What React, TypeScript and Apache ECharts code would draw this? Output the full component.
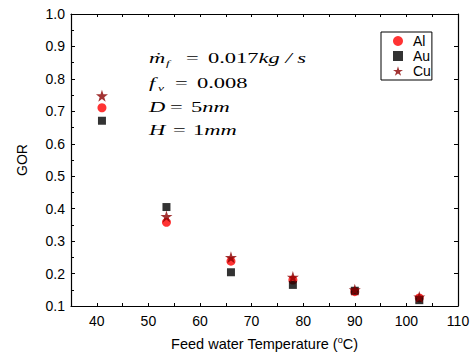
import React, { useEffect, useRef } from "react";
import * as echarts from "echarts";

const temps = [41, 53.5, 66, 78, 90, 102.5];
const alValues = [0.711, 0.358, 0.238, 0.18, 0.144, 0.125];
const auValues = [0.671, 0.405, 0.204, 0.165, 0.147, 0.118];
const cuValues = [0.748, 0.376, 0.25, 0.189, 0.15, 0.128];
const seriesNames = ["Al", "Au", "Cu"];

const STAR =
  "path://M0,-10 L2.245,-3.09 L9.51,-3.09 L3.633,1.18 L5.878,8.09 L0,3.82 L-5.878,8.09 L-3.633,1.18 L-9.51,-3.09 L-2.245,-3.09 Z";

const SANS = "Liberation Sans, Arial, sans-serif";
const SERIF = "Liberation Serif, Times New Roman, serif";
const STRETCH = 1.5;

function pairs(vals: number[]) {
  return temps.map((t, i) => [t, vals[i]]);
}

function mathText(x: number, y: number, rich: string, size = 15) {
  return {
    type: "text",
    x,
    y,
    scaleX: STRETCH,
    style: {
      text: rich,
      fill: "#000",
      verticalAlign: "middle",
      rich: {
        i: { fontFamily: SERIF, fontStyle: "italic", fontSize: size, fill: "#000" },
        n: { fontFamily: SERIF, fontSize: size, fill: "#000" },
      },
    },
  };
}

function sub(x: number, y: number, t: string) {
  return {
    type: "text",
    x,
    y,
    scaleX: STRETCH,
    style: {
      text: t,
      fill: "#000",
      verticalAlign: "middle",
      fontFamily: SERIF,
      fontStyle: "italic",
      fontSize: 9,
    },
  };
}

export default function App() {
  const ref = useRef<HTMLDivElement>(null);
  useEffect(() => {
    const chart = echarts.init(ref.current!, null, { renderer: "svg" });
    const axisLine = { show: true, lineStyle: { color: "#000", width: 1.2 } };
    chart.setOption({
      animation: false,
      backgroundColor: "#fff",
      grid: { left: 71, top: 14, width: 387, height: 293 },
      legend: {
        orient: "vertical",
        left: 381,
        top: 32,
        data: seriesNames,
        itemWidth: 10,
        itemHeight: 10,
        itemGap: 1,
        padding: [2, 1, 2, 12],
        borderColor: "#000",
        borderWidth: 1,
        borderRadius: 0,
        textStyle: { fontFamily: SANS, fontSize: 14, color: "#000", padding: [0, 0, 0, 5] },
      },
      xAxis: [
        {
          type: "value",
          min: 35,
          max: 110,
          interval: 5,
          axisLine,
          splitLine: { show: false },
          axisTick: { inside: true, length: 3, lineStyle: { color: "#000" } },
          axisLabel: {
            fontFamily: SANS,
            fontSize: 14,
            color: "#000",
            margin: 8,
            formatter: (v: number) => (v % 10 === 0 ? String(v) : ""),
          },
          name: "{a|Feed water Temperature (}{s|o}{a|C)}",
          nameLocation: "middle",
          nameGap: 29,
          nameTextStyle: {
            rich: {
              a: { fontFamily: SANS, fontSize: 14.5, color: "#000" },
              s: { fontFamily: SANS, fontSize: 9, color: "#000", verticalAlign: "top", padding: [0, 0, 8, 0] },
            },
          },
        },
        {
          type: "value",
          position: "top",
          min: 35,
          max: 110,
          interval: 5,
          axisLine,
          splitLine: { show: false },
          axisTick: { inside: true, length: 3, lineStyle: { color: "#000" } },
          axisLabel: { show: false },
        },
      ],
      yAxis: [
        {
          type: "value",
          min: 0.1,
          max: 1.0,
          interval: 0.1,
          axisLine,
          splitLine: { show: false },
          axisTick: { inside: true, length: 4, lineStyle: { color: "#000" } },
          minorTick: { show: true, splitNumber: 2, length: 3, lineStyle: { color: "#000" } },
          axisLabel: {
            fontFamily: SANS,
            fontSize: 14,
            color: "#000",
            margin: 6,
            formatter: (v: number) => v.toFixed(1),
          },
          name: "GOR",
          nameLocation: "middle",
          nameGap: 42,
          nameTextStyle: { fontFamily: SANS, fontSize: 14, color: "#000" },
        },
        {
          type: "value",
          position: "right",
          min: 0.1,
          max: 1.0,
          interval: 0.1,
          axisLine,
          splitLine: { show: false },
          axisTick: { inside: true, length: 4, lineStyle: { color: "#000" } },
          axisLabel: { show: false },
        },
      ],
      series: [
        {
          name: "Al",
          type: "scatter",
          data: pairs(alValues),
          symbol: "circle",
          symbolSize: 9,
          itemStyle: { color: "#ff0000" },
        },
        {
          name: "Au",
          type: "scatter",
          data: pairs(auValues),
          symbol: "rect",
          symbolSize: 8,
          itemStyle: { color: "#000000" },
        },
        {
          name: "Cu",
          type: "scatter",
          data: pairs(cuValues),
          symbol: STAR,
          symbolSize: 12,
          itemStyle: { color: "#8b0000" },
        },
      ],
      graphic: [
        mathText(149, 58, "{i|ṁ}"),
        sub(166, 63, "f"),
        mathText(186, 58, "{n|=}"),
        mathText(208, 58, "{n|0.017}{i|kg / s}"),
        mathText(149, 83, "{i|f}"),
        sub(158, 88, "v"),
        mathText(175, 83, "{n|=}"),
        mathText(197, 83, "{n|0.008}"),
        mathText(149, 107, "{i|D}"),
        mathText(170, 107, "{n|=}"),
        mathText(191, 107, "{n|5}{i|nm}"),
        mathText(149, 130, "{i|H}"),
        mathText(173, 130, "{n|=}"),
        mathText(193, 130, "{n|1}{i|mm}"),
      ],
    });
    return () => chart.dispose();
  }, []);
  return <div ref={ref} style={{ width: 474, height: 356, position: "absolute", left: 0, top: 0 }} />;
}
